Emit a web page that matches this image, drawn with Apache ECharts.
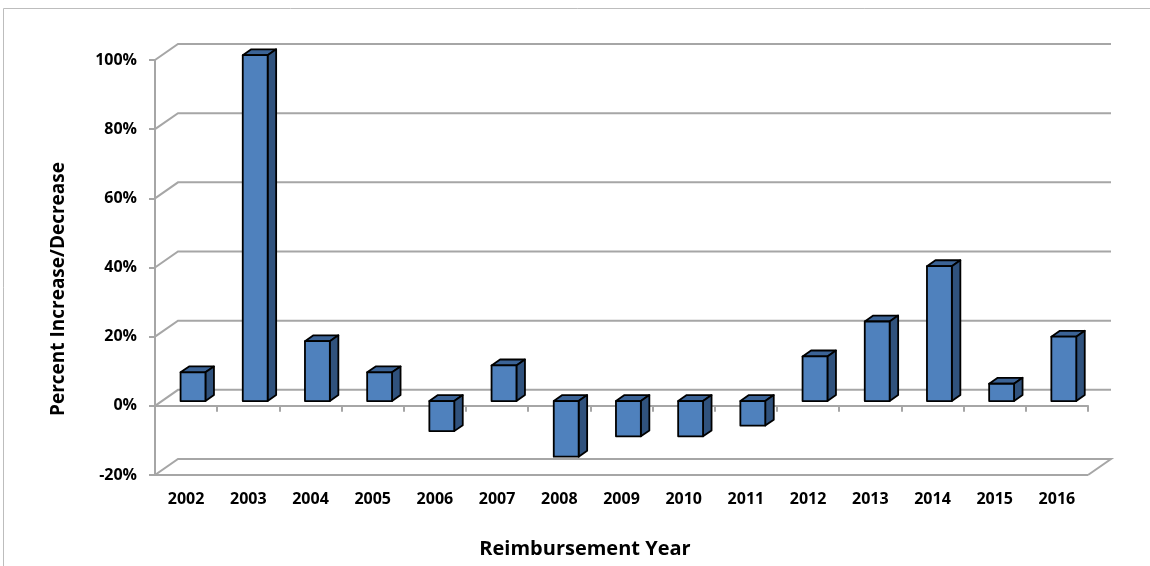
<!DOCTYPE html>
<html>
<head>
<meta charset="utf-8">
<script src="https://cdn.jsdelivr.net/npm/echarts@6/dist/echarts.min.js"></script>
<style>html,body{margin:0;padding:0;background:#fff;}#c{width:1150px;height:566px;}</style>
</head>
<body>
<div id="c"></div>
<script>
const categories = ['2002','2003','2004','2005','2006','2007','2008','2009','2010','2011','2012','2013','2014','2015','2016'];
const values = [8.3, 100, 17.3, 8.3, -8.7, 10.3, -16.1, -10.2, -10.2, -7.1, 12.9, 23, 39, 5, 18.6];
const yTicks = [-20, 0, 20, 40, 60, 80, 100];

const DX = 23, DY = -16;          // depth of the 3D box
const GRID = '#a6a6a6';
const FONT = 'Open Sans';

const chart = echarts.init(document.getElementById('c'), null, {renderer: 'canvas'});

const option = {
  backgroundColor: '#fff',
  animation: false,
  grid: {left: 155, right: 62, top: 60, bottom: 91, containLabel: false},
  xAxis: [{
    type: 'category', data: categories,
    axisLine: {show: true, onZero: true, lineStyle: {color: GRID, width: 2}},
    axisTick: {show: true, length: 6, lineStyle: {color: GRID, width: 2}},
    axisLabel: {show: false},
    splitLine: {show: false}
  }, {
    type: 'category', data: categories, position: 'bottom',
    axisLine: {show: false, onZero: false},
    axisTick: {show: false},
    axisLabel: {show: true, margin: 16, color: '#000', fontFamily: FONT, fontWeight: 'bold', fontSize: 16},
    splitLine: {show: false}
  }],
  yAxis: {
    type: 'value', min: -20, max: 100, interval: 20,
    axisLine: {show: true, lineStyle: {color: GRID, width: 2}},
    axisTick: {show: true, length: 6, lineStyle: {color: GRID, width: 2}},
    axisLabel: {margin: 18, color: '#000', fontFamily: FONT, fontWeight: 'bold', fontSize: 16, formatter: '{value}%'},
    splitLine: {show: false}
  },
  graphic: [
    {type: 'rect', shape: {x: 3.5, y: 8.5, width: 1300, height: 700}, style: {fill: 'none', stroke: '#bdbdbd', lineWidth: 1}, silent: true},
    {type: 'text', x: 59, y: 289, rotation: Math.PI / 2,
     style: {text: 'Percent Increase/Decrease', fill: '#000', font: 'bold 19px "' + FONT + '"', align: 'center', verticalAlign: 'middle'}},
    {type: 'text', x: 585, y: 549,
     style: {text: 'Reimbursement Year', fill: '#000', font: 'bold 20px "' + FONT + '"', align: 'center', verticalAlign: 'middle'}}
  ],
  series: [{
    type: 'custom', name: 'walls', silent: true, z: 1,
    data: yTicks.map(v => [0, v]),
    renderItem: function (params, api) {
      const cs = params.coordSys;
      const y = api.coord([0, api.value(1)])[1];
      const x0 = cs.x, x1 = cs.x + cs.width;
      let pts;
      if (api.value(1) === yTicks[0]) {
        pts = [[x1, y], [x0, y], [x0 + DX, y + DY], [x1 + DX, y + DY], [x1, y]];
      } else {
        pts = [[x0, y], [x0 + DX, y + DY], [x1 + DX, y + DY]];
      }
      return {type: 'polyline', shape: {points: pts}, style: {stroke: GRID, lineWidth: 2, fill: null}};
    }
  }, {
    type: 'custom', name: 'bars', z: 3,
    data: values.map((v, i) => [i, v]),
    renderItem: function (params, api) {
      const i = api.value(0), v = api.value(1);
      const p0 = api.coord([i, 0]);
      const p1 = api.coord([i, v]);
      const band = api.size([1, 0])[0];
      const w = band * 0.4;
      const ox = 0.3 * DX, oy = 0.3 * DY;
      const dx = 0.37 * DX, dy = 0.37 * DY;
      const xl = p0[0] - w / 2 + ox, xr = xl + w;
      const yTop = Math.min(p0[1], p1[1]) + oy;
      const yBot = Math.max(p0[1], p1[1]) + oy;
      const stroke = {stroke: '#000', lineWidth: 1.8, lineJoin: 'round'};
      return {
        type: 'group',
        children: [
          {type: 'polygon', shape: {points: [[xl, yTop], [xl + dx, yTop + dy], [xr + dx, yTop + dy], [xr, yTop]]},
           style: Object.assign({fill: '#3b6396'}, stroke)},
          {type: 'polygon', shape: {points: [[xr, yTop], [xr + dx, yTop + dy], [xr + dx, yBot + dy], [xr, yBot]]},
           style: Object.assign({fill: '#30527d'}, stroke)},
          {type: 'polygon', shape: {points: [[xl, yTop], [xr, yTop], [xr, yBot], [xl, yBot]]},
           style: Object.assign({fill: '#4f81bd'}, stroke)}
        ]
      };
    }
  }]
};
chart.setOption(option);
</script>
</body>
</html>
